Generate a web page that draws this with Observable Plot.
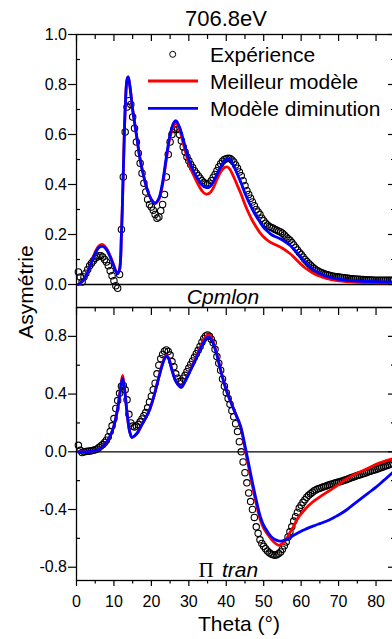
<!DOCTYPE html>
<html><head><meta charset="utf-8">
<script src="https://cdn.jsdelivr.net/npm/d3@7"></script>
<script src="https://cdn.jsdelivr.net/npm/@observablehq/plot@0.6"></script>
<style>
html,body{margin:0;padding:0;background:#fff;}
#wrap{position:relative;width:392px;height:639px;overflow:hidden;background:#fff;font-family:"Liberation Sans",Arial,sans-serif;}
.pos{position:absolute;left:0;}
</style></head><body><div id="wrap"></div>
<script>
// ---------- data ----------
const title = "706.8eV";
const legendLabels = ["Expérience", "Meilleur modèle", "Modèle diminution"];
const xLabel = "Theta (°)";
const yLabel = "Asymétrie";
const topPanelLabel = "Cpmlon";
const bottomPanelSymbol = "Π";
const bottomPanelWord = "tran";

const xMajorTicks = [0, 10, 20, 30, 40, 50, 60, 70, 80];
const xMinorTicks = [5, 15, 25, 35, 45, 55, 65, 75, 85];
const topYMajor = [0.0, 0.2, 0.4, 0.6, 0.8, 1.0];
const topYMinor = [0.1, 0.3, 0.5, 0.7, 0.9];
const botYMajor = [-0.8, -0.4, 0.0, 0.4, 0.8];
const botYMinor = [-0.6, -0.2, 0.2, 0.6];

const expTheta = [
 0.5,1,1.5,2,2.5,3,3.5,4,4.5,5,
 5.5,6,6.5,7,7.5,8,8.5,9,9.5,10,
 10.5,11,11.5,12,12.5,13,13.5,14,14.5,15,
 15.5,16,16.5,17,17.5,18,18.5,19,19.5,20,
 20.5,21,21.5,22,22.5,23,23.5,24,24.5,25,
 25.5,26,26.5,27,27.5,28,28.5,29,29.5,30,
 30.5,31,31.5,32,32.5,33,33.5,34,34.5,35,
 35.5,36,36.5,37,37.5,38,38.5,39,39.5,40,
 40.5,41,41.5,42,42.5,43,43.5,44,44.5,45,
 45.5,46,46.5,47,47.5,48,48.5,49,49.5,50,
 50.5,51,51.5,52,52.5,53,53.5,54,54.5,55,
 55.5,56,56.5,57,57.5,58,58.5,59,59.5,60,
 60.5,61,61.5,62,62.5,63,63.5,64,64.5,65,
 65.5,66,66.5,67,67.5,68,68.5,69,69.5,70,
 70.5,71,71.5,72,72.5,73,73.5,74,74.5,75,
 75.5,76,76.5,77,77.5,78,78.5,79,79.5,80,
 80.5,81,81.5,82,82.5,83,83.5,84,84.5
];
const expTop = [
 0.05,0.03,0.01,0.03,0.045,0.06,0.075,0.085,0.095,0.105,
 0.11,0.115,0.115,0.11,0.10,0.09,0.075,0.055,0.035,0.015,
 -0.005,-0.015,0.04,0.22,0.43,0.61,0.71,0.735,0.72,0.67,
 0.625,0.57,0.525,0.485,0.445,0.405,0.37,0.34,0.32,0.31,
 0.297,0.28,0.265,0.27,0.295,0.32,0.36,0.43,0.52,0.57,
 0.60,0.62,0.63,0.62,0.60,0.575,0.55,0.53,0.51,0.495,
 0.48,0.468,0.455,0.445,0.435,0.425,0.415,0.408,0.403,0.40,
 0.405,0.415,0.428,0.44,0.455,0.47,0.483,0.493,0.50,0.503,
 0.505,0.504,0.498,0.49,0.478,0.465,0.45,0.435,0.415,0.395,
 0.375,0.36,0.345,0.33,0.315,0.30,0.29,0.28,0.265,0.255,
 0.245,0.238,0.232,0.228,0.225,0.22,0.217,0.213,0.21,0.205,
 0.198,0.19,0.183,0.177,0.168,0.158,0.148,0.138,0.128,0.12,
 0.11,0.10,0.092,0.084,0.077,0.07,0.064,0.058,0.054,0.05,
 0.047,0.044,0.041,0.039,0.037,0.035,0.033,0.032,0.031,0.03,
 0.029,0.028,0.027,0.026,0.025,0.024,0.023,0.022,0.022,0.021,
 0.021,0.02,0.02,0.019,0.019,0.018,0.018,0.018,0.017,0.017,
 0.017,0.017,0.017,0.017,0.017,0.017,0.017,0.017,0.017
];
const expBottom = [
 0.045,0.01,-0.005,0.0,0.002,0.003,0.005,0.008,0.01,0.015,
 0.02,0.03,0.04,0.05,0.065,0.08,0.105,0.14,0.18,0.23,
 0.30,0.355,0.405,0.455,0.46,0.43,0.36,0.26,0.2,0.178,
 0.172,0.178,0.19,0.208,0.228,0.25,0.272,0.305,0.345,0.385,
 0.43,0.475,0.54,0.6,0.645,0.675,0.697,0.706,0.695,0.67,
 0.625,0.59,0.54,0.51,0.488,0.49,0.51,0.53,0.555,0.58,
 0.605,0.63,0.655,0.68,0.703,0.73,0.76,0.785,0.803,0.81,
 0.8,0.78,0.755,0.71,0.66,0.614,0.565,0.505,0.455,0.41,
 0.37,0.33,0.285,0.243,0.195,0.14,0.07,0.0,-0.07,-0.145,
 -0.215,-0.285,-0.345,-0.4,-0.455,-0.52,-0.565,-0.61,-0.635,-0.655,
 -0.672,-0.688,-0.7,-0.708,-0.714,-0.717,-0.713,-0.705,-0.694,-0.675,
 -0.652,-0.625,-0.59,-0.555,-0.52,-0.48,-0.45,-0.42,-0.39,-0.37,
 -0.35,-0.332,-0.315,-0.302,-0.29,-0.28,-0.27,-0.263,-0.257,-0.252,
 -0.247,-0.243,-0.238,-0.233,-0.229,-0.225,-0.221,-0.217,-0.213,-0.21,
 -0.206,-0.202,-0.197,-0.193,-0.188,-0.184,-0.179,-0.174,-0.17,-0.165,
 -0.161,-0.157,-0.152,-0.148,-0.144,-0.139,-0.135,-0.13,-0.126,-0.122,
 -0.117,-0.113,-0.108,-0.104,-0.099,-0.095,-0.09,-0.085,-0.08
];

const topModelTheta = [
 0.5,1,2,3,4,5,6,7,8,9,
 10,10.5,11,11.5,12,12.5,13,13.5,13.8,14.2,
 15,16,17,18,19,20,21,22,23,24,
 25,26,26.6,27.5,28.5,29.5,30.5,31.5,32.5,33.5,
 34.5,35.5,36.5,37.5,38.5,39.5,40.3,41,42,43,
 44,45,46,47,48,49,50,51,52,53,
 54,55,56,57,58,59,60,61,62,63,
 64,65,66,67,68,70,72,75,80,85
];
const topBest = [
 0.0,0.005,0.02,0.05,0.09,0.13,0.155,0.16,0.145,0.115,
 0.075,0.055,0.045,0.06,0.2,0.45,0.7,0.82,0.83,0.8,
 0.7,0.6,0.5,0.43,0.375,0.34,0.325,0.34,0.4,0.5,
 0.59,0.635,0.645,0.62,0.565,0.51,0.465,0.43,0.4,0.375,
 0.362,0.365,0.385,0.42,0.45,0.468,0.47,0.46,0.43,0.395,
 0.36,0.32,0.285,0.255,0.23,0.207,0.19,0.177,0.167,0.16,
 0.153,0.145,0.135,0.124,0.11,0.095,0.08,0.067,0.057,0.047,
 0.039,0.033,0.028,0.023,0.02,0.015,0.012,0.009,0.007,0.006
];
const topDim = [
 0.0,0.005,0.02,0.05,0.088,0.125,0.148,0.152,0.14,0.11,
 0.072,0.052,0.043,0.06,0.2,0.45,0.7,0.82,0.83,0.8,
 0.7,0.6,0.5,0.43,0.375,0.34,0.325,0.345,0.41,0.51,
 0.6,0.648,0.655,0.63,0.58,0.525,0.48,0.445,0.42,0.398,
 0.388,0.39,0.41,0.44,0.47,0.495,0.502,0.5,0.475,0.44,
 0.405,0.365,0.33,0.3,0.273,0.25,0.228,0.213,0.2,0.192,
 0.186,0.178,0.168,0.157,0.142,0.125,0.108,0.091,0.076,0.063,
 0.052,0.044,0.037,0.032,0.027,0.021,0.017,0.014,0.011,0.01
];

const botModelTheta = [
 0.5,2,4,5,6,7,8,9,10,11,
 11.7,12.3,12.8,13.5,14.2,14.8,15.5,16.5,17.5,18.5,
 19.5,20.5,21.5,22.5,23.3,24,24.6,25.5,26.5,27.5,
 28,29,30,31,32,33,34,35,35.7,36.5,
 37.5,38.5,39.5,40.3,41.6,42.4,43.8,45.1,46.5,47.8,
 49.1,50,51,52,53,54,55,56,57,58,
 59,60,61,62,63,64,65,66,67,68,
 69,70,72,74,76,78,80,82,85
];
const botBest = [
 0.0,0.0,0.003,0.008,0.018,0.035,0.065,0.11,0.18,0.3,
 0.43,0.53,0.45,0.27,0.14,0.1,0.11,0.14,0.19,0.235,
 0.29,0.37,0.47,0.57,0.64,0.67,0.65,0.57,0.49,0.455,
 0.448,0.49,0.545,0.6,0.66,0.72,0.775,0.81,0.805,0.76,
 0.68,0.567,0.47,0.405,0.32,0.267,0.174,0.012,-0.174,-0.335,
 -0.474,-0.53,-0.57,-0.605,-0.632,-0.648,-0.635,-0.608,-0.56,-0.515,
 -0.465,-0.43,-0.4,-0.373,-0.35,-0.33,-0.312,-0.295,-0.278,-0.262,
 -0.245,-0.228,-0.19,-0.16,-0.137,-0.113,-0.087,-0.068,-0.045
];
const botDim = [
 0.0,0.0,0.003,0.008,0.018,0.035,0.065,0.11,0.18,0.3,
 0.42,0.51,0.44,0.27,0.14,0.1,0.11,0.14,0.19,0.235,
 0.29,0.37,0.465,0.565,0.63,0.665,0.645,0.565,0.49,0.455,
 0.447,0.487,0.54,0.595,0.65,0.71,0.76,0.793,0.79,0.75,
 0.67,0.565,0.47,0.405,0.32,0.27,0.18,0.03,-0.15,-0.31,
 -0.45,-0.51,-0.553,-0.588,-0.608,-0.618,-0.617,-0.61,-0.595,-0.578,
 -0.565,-0.55,-0.538,-0.527,-0.517,-0.507,-0.498,-0.488,-0.478,-0.466,
 -0.452,-0.438,-0.405,-0.365,-0.325,-0.285,-0.245,-0.2,-0.13
];

// ---------- build ----------
const FONT = '"Liberation Sans", Arial, sans-serif';
const RED = "#ff0000", BLUE = "#0000ff";
const W = 392, ML = 76, MR = -3;   // right frame lies just outside the visible window
const xDomain = [0, 85.2];
const rows = (xs, ys) => xs.map((t, i) => ({theta: t, value: ys[i]}));
const none = () => "";

function panelMarks(exp, best, dim, modelTheta, yMajor, yMinor) {
  return [
    Plot.ruleY([0], {stroke: "black", strokeWidth: 1.3}),
    Plot.dot(rows(expTheta, exp), {x: "theta", y: "value", r: 3.2, stroke: "black", strokeWidth: 1.1, fill: "none"}),
    Plot.line(rows(modelTheta, best), {x: "theta", y: "value", stroke: RED, strokeWidth: 2.8, curve: "catmull-rom"}),
    Plot.line(rows(modelTheta, dim), {x: "theta", y: "value", stroke: BLUE, strokeWidth: 2.8, curve: "catmull-rom"}),
    Plot.axisY({anchor: "left", ticks: yMajor, tickSize: 8, tickPadding: 1.5, tickFormat: d => d.toFixed(1), label: null, fontSize: 16, stroke: "black", strokeWidth: 1.2}),
    Plot.axisY({anchor: "left", ticks: yMinor, tickSize: 4, dx: 4, tickFormat: none, label: null, strokeWidth: 1.2}),
    Plot.axisY({anchor: "right", ticks: yMajor, tickSize: 8, dx: -8, tickFormat: none, label: null, strokeWidth: 1.2}),
    Plot.axisY({anchor: "right", ticks: yMinor, tickSize: 5, dx: -5, tickFormat: none, label: null, strokeWidth: 1.2}),
    Plot.frame({stroke: "black", strokeWidth: 1.3})
  ];
}

const topPlot = Plot.plot({
  width: W, height: 310, marginLeft: ML, marginRight: MR, marginTop: 34, marginBottom: 3,
  style: {fontFamily: FONT, fontSize: "16px", color: "black", background: "transparent", overflow: "hidden"},
  x: {domain: xDomain},
  y: {domain: [-0.092, 1.0]},
  marks: [
    ...panelMarks(expTop, topBest, topDim, topModelTheta, topYMajor, topYMinor),
    Plot.axisX({anchor: "top", ticks: xMajorTicks, tickSize: 6, dy: 6, tickFormat: none, label: null, strokeWidth: 1.2}),
    Plot.axisX({anchor: "top", ticks: xMinorTicks, tickSize: 4, dy: 4, tickFormat: none, label: null, strokeWidth: 1.2}),
    Plot.text([topPanelLabel], {frameAnchor: "bottom", dx: -13, dy: -4, lineAnchor: "bottom", fontSize: 21, fontStyle: "italic", fontFamily: FONT, fill: "black"})
  ]
});

const botPlot = Plot.plot({
  width: W, height: 339, marginLeft: ML, marginRight: MR, marginTop: 7, marginBottom: 59,
  style: {fontFamily: FONT, fontSize: "16px", color: "black", background: "transparent", overflow: "hidden"},
  x: {domain: xDomain},
  y: {domain: [-0.892, 1.0]},
  marks: [
    ...panelMarks(expBottom, botBest, botDim, botModelTheta, botYMajor, botYMinor),
    Plot.axisX({anchor: "top", ticks: xMajorTicks, tickSize: 7, dy: 7, tickFormat: none, label: null, strokeWidth: 1.2}),
    Plot.axisX({anchor: "top", ticks: xMinorTicks, tickSize: 3.5, dy: 3.5, tickFormat: none, label: null, strokeWidth: 1.2}),
    Plot.axisX({anchor: "bottom", ticks: xMajorTicks, tickSize: 6, tickPadding: 9, tickFormat: d => String(d), label: null, fontSize: 16, strokeWidth: 1.2}),
    Plot.axisX({anchor: "bottom", ticks: xMinorTicks, tickSize: 3.5, tickFormat: none, label: null, strokeWidth: 1.2}),
    Plot.text([bottomPanelSymbol], {frameAnchor: "bottom", dx: -30, dy: -4, lineAnchor: "bottom", fontSize: 21, fontFamily: '"Liberation Serif", "DejaVu Serif", serif', fill: "black"}),
    Plot.text([bottomPanelWord], {frameAnchor: "bottom", dx: 4, dy: -4, lineAnchor: "bottom", fontSize: 21, fontStyle: "italic", fontFamily: FONT, fill: "black"})
  ]
});

const wrap = document.getElementById("wrap");
topPlot.classList.add("pos"); topPlot.style.top = "0px";
botPlot.classList.add("pos"); botPlot.style.top = "300px";
wrap.appendChild(botPlot);
wrap.appendChild(topPlot);

// overlay: title, legend, axis titles
const NS = "http://www.w3.org/2000/svg";
const ov = document.createElementNS(NS, "svg");
ov.setAttribute("width", 392); ov.setAttribute("height", 639);
ov.setAttribute("class", "pos"); ov.style.top = "0px"; ov.style.pointerEvents = "none";
ov.style.fontFamily = FONT;
function el(tag, attrs, text) {
  const e = document.createElementNS(NS, tag);
  for (const k in attrs) e.setAttribute(k, attrs[k]);
  if (text != null) e.textContent = text;
  ov.appendChild(e); return e;
}
el("text", {x: 226, y: 26, "text-anchor": "middle", "font-size": 22, fill: "black"}, title);
el("circle", {cx: 172.7, cy: 54.3, r: 3, fill: "none", stroke: "black", "stroke-width": 1});
el("line", {x1: 148, x2: 198, y1: 81, y2: 81, stroke: RED, "stroke-width": 2.8});
el("line", {x1: 148, x2: 198, y1: 108.3, y2: 108.3, stroke: BLUE, "stroke-width": 2.8});
el("text", {x: 210, y: 61.5, "font-size": 21, fill: "black"}, legendLabels[0]);
el("text", {x: 210, y: 88.5, "font-size": 21, fill: "black"}, legendLabels[1]);
el("text", {x: 210, y: 115.5, "font-size": 21, fill: "black"}, legendLabels[2]);
el("text", {transform: "translate(33,292) rotate(-90)", "text-anchor": "middle", "font-size": 21, fill: "black"}, yLabel);
el("text", {x: 239, y: 631, "text-anchor": "middle", "font-size": 21, fill: "black"}, xLabel);
wrap.appendChild(ov);
</script>
</body></html>
